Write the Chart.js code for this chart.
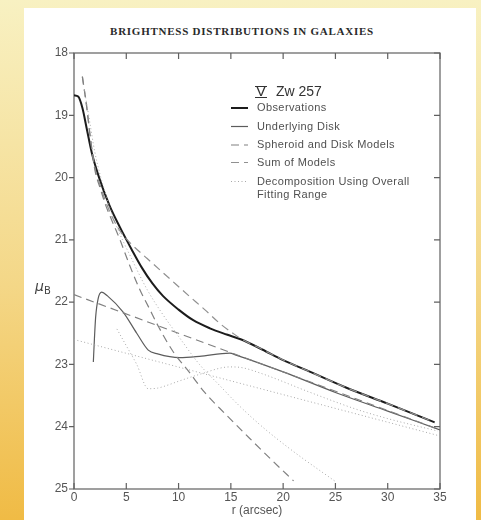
<!DOCTYPE html>
<html>
<head>
<meta charset="utf-8">
<script src="https://cdn.jsdelivr.net/npm/chart.js@4"></script>
<style>
  html, body { margin: 0; padding: 0; }
  body {
    width: 481px; height: 520px; overflow: hidden; position: relative;
    background: linear-gradient(to bottom, #f8f1c2 0%, #f4d787 55%, #f0bb45 100%);
  }
  #page { position: absolute; left: 24px; top: 8px; width: 452px; height: 512px; background: #fff; }
  #title {
    position: absolute; left: 0; top: 25px; width: 484px; text-align: center;
    font-family: "Liberation Serif", serif; font-weight: bold; font-size: 11px;
    letter-spacing: 0.75px; color: #2a2a2a;
  }
  canvas { position: absolute; left: 0; top: 0; }
</style>
</head>
<body>
<div id="page"></div>
<div id="title">BRIGHTNESS DISTRIBUTIONS IN GALAXIES</div>
<canvas id="chart" width="481" height="520"></canvas>
<script>
// ── axes ──────────────────────────────────────────────
const X_TICKS = [0, 5, 10, 15, 20, 25, 30, 35];
const Y_TICKS = [18, 19, 20, 21, 22, 23, 24, 25];

// ── curves (r in arcsec, mu_B in mag/arcsec²) ──
const obsR  = [0, 0.4, 0.8, 1.2, 1.7, 2.4, 3.4, 4.4, 5.5, 6.5, 7.5, 8.5, 10, 11.4, 13, 14.6, 16, 18, 20, 22.6, 26, 30, 34.5];
const obsMu = [18.68, 18.70, 18.88, 19.2, 19.6, 20.0, 20.45, 20.8, 21.15, 21.45, 21.7, 21.9, 22.12, 22.29, 22.42, 22.52, 22.6, 22.76, 22.93, 23.12, 23.37, 23.63, 23.93];

const diskR  = [1.85, 1.95, 2.07, 2.3, 2.65, 3.2, 4.7, 6.0, 7.1, 8.0, 10.1, 12.0, 14.9, 15.5, 20, 25, 30, 35];
const diskMu = [22.96, 22.6, 22.24, 21.95, 21.84, 21.9, 22.16, 22.5, 22.77, 22.83, 22.89, 22.87, 22.82, 22.85, 23.12, 23.45, 23.75, 24.05];

const sphR  = [0.8, 1.2, 1.6, 2.0, 2.5, 3.0, 3.7, 4.4, 5.3, 6.3, 7.2, 8.1, 9.5, 11, 12.5, 14.5, 17, 19, 21];
const sphMu = [18.38, 18.85, 19.42, 19.88, 20.17, 20.43, 20.72, 21.0, 21.4, 21.8, 22.1, 22.4, 22.8, 23.12, 23.45, 23.8, 24.22, 24.55, 24.87];

const diskModelR  = [0, 35];
const diskModelMu = [21.88, 24.05];

const sumR  = [0.8, 1.2, 1.6, 2.0, 2.5, 3.0, 3.7, 4.5, 5.5, 7, 9, 11, 12.5, 14, 15.2, 16, 18, 20, 22.6, 26, 30, 34.5];
const sumMu = [18.38, 18.84, 19.4, 19.84, 20.12, 20.37, 20.65, 20.88, 21.07, 21.3, 21.6, 21.9, 22.12, 22.35, 22.5, 22.59, 22.76, 22.93, 23.12, 23.37, 23.63, 23.93];

// decomposition using overall fitting range (dotted)
const dDiskR  = [0, 34.8];
const dDiskMu = [22.6, 24.14];

const dUndR  = [4.1, 5.0, 6.0, 7.1, 8.0, 9.0, 10.0, 12.0, 14.9, 16, 18, 22.6, 27, 30, 34.8];
const dUndMu = [22.43, 22.7, 23.0, 23.39, 23.38, 23.33, 23.27, 23.16, 23.04, 23.05, 23.15, 23.45, 23.72, 23.87, 24.07];

const dSphR  = [1.0, 1.5, 2.0, 3.0, 4.0, 5.5, 7.0, 8.5, 10, 12, 14, 15.6, 18, 21, 25];
const dSphMu = [18.6, 19.1, 19.6, 20.25, 20.75, 21.3, 21.8, 22.2, 22.55, 23.0, 23.35, 23.63, 24.0, 24.4, 24.88];

const LEGEND = [
  { label: 'Observations',             color: '#1c1c1c', width: 2,   dash: [] },
  { label: 'Underlying Disk',          color: '#5c5c5c', width: 1.2, dash: [] },
  { label: 'Spheroid and Disk Models', color: '#808080', width: 1.2, dash: [8, 5] },
  { label: 'Sum of Models',            color: '#909090', width: 1.2, dash: [8, 5] },
  { label: 'Decomposition Using Overall', label2: 'Fitting Range', color: '#a8a8a8', width: 1, dash: [1, 2.5] },
];

const pts = (xs, ys) => xs.map((x, i) => ({ x, y: ys[i] }));

function line(xs, ys, st) {
  return {
    data: pts(xs, ys),
    showLine: true,
    pointRadius: 0,
    borderColor: st.color,
    borderWidth: st.width,
    borderDash: st.dash,
    cubicInterpolationMode: 'monotone',
    fill: false,
  };
}

// ── frame with ticks: left outward, other sides inward ──
const framePlugin = {
  id: 'frame',
  beforeDatasetsDraw(chart) {
    const { ctx, chartArea: a, scales: { x, y } } = chart;
    ctx.save();
    ctx.strokeStyle = '#606060';
    ctx.lineWidth = 1.2;
    ctx.strokeRect(a.left, a.top, a.right - a.left, a.bottom - a.top);
    ctx.beginPath();
    X_TICKS.forEach(v => {
      const px = x.getPixelForValue(v);
      ctx.moveTo(px, a.bottom); ctx.lineTo(px, a.bottom - 6);
      ctx.moveTo(px, a.top);    ctx.lineTo(px, a.top + 6);
    });
    Y_TICKS.forEach(v => {
      const py = y.getPixelForValue(v);
      ctx.moveTo(a.left, py);  ctx.lineTo(a.left - 5, py);
      ctx.moveTo(a.right, py); ctx.lineTo(a.right - 6, py);
    });
    ctx.stroke();

    // mu_B axis label
    ctx.fillStyle = '#444';
    ctx.font = 'italic 14px "DejaVu Sans"';
    ctx.textBaseline = 'middle';
    ctx.fillText('μ', 35, 287);
    ctx.font = '10px "DejaVu Sans"';
    ctx.fillText('B', 44, 291);
    ctx.restore();
  },
  afterDraw(chart) {
    const { ctx } = chart;
    ctx.save();
    ctx.fillStyle = '#333';
    ctx.strokeStyle = '#333';
    ctx.textBaseline = 'middle';
    ctx.font = '15px "Liberation Sans"';
    ctx.fillText('V', 256, 92);
    const vw = ctx.measureText('V').width;
    ctx.lineWidth = 1;
    ctx.beginPath();
    ctx.moveTo(255, 86.5); ctx.lineTo(257 + vw, 86.5);
    ctx.moveTo(255, 97.5); ctx.lineTo(257 + vw, 97.5);
    ctx.stroke();
    ctx.font = '14px "Liberation Sans"';
    ctx.fillText('Zw 257', 276, 92);

    ctx.font = '11px "Liberation Sans"';
    ctx.letterSpacing = '0.4px';
    ctx.fillStyle = '#505050';
    const rows = [108, 126.5, 145, 162.5, 181.5];
    LEGEND.forEach((it, i) => {
      ctx.strokeStyle = it.color;
      ctx.lineWidth = it.width;
      ctx.setLineDash(it.dash);
      ctx.beginPath();
      ctx.moveTo(231, rows[i]); ctx.lineTo(248, rows[i]);
      ctx.stroke();
      ctx.setLineDash([]);
      ctx.fillText(it.label, 257, rows[i]);
      if (it.label2) ctx.fillText(it.label2, 257, rows[i] + 13.5);
    });
    ctx.restore();
  },
};

new Chart(document.getElementById('chart'), {
  type: 'scatter',
  data: {
    datasets: [
      line(dDiskR, dDiskMu, LEGEND[4]),
      line(dUndR, dUndMu, LEGEND[4]),
      line(dSphR, dSphMu, LEGEND[4]),
      line(diskModelR, diskModelMu, LEGEND[2]),
      line(sphR, sphMu, LEGEND[2]),
      line(sumR, sumMu, LEGEND[3]),
      line(diskR, diskMu, LEGEND[1]),
      line(obsR, obsMu, LEGEND[0]),
    ],
  },
  options: {
    responsive: false,
    animation: false,
    devicePixelRatio: 1,
    layout: { padding: { top: 53, right: 41, left: 0, bottom: 0 } },
    plugins: { legend: { display: false }, tooltip: { enabled: false } },
    scales: {
      x: {
        type: 'linear', min: 0, max: 35,
        afterBuildTicks: s => { s.ticks = X_TICKS.map(v => ({ value: v })); },
        afterFit: s => { s.height = 31; },
        grid: { display: false, drawTicks: false },
        border: { display: false },
        ticks: { padding: 1, color: '#555', font: { family: 'Liberation Sans', size: 12 } },
        title: { display: true, text: 'r (arcsec)', color: '#555', padding: { top: 0, bottom: 2 },
                 font: { family: 'Liberation Sans', size: 12 } },
      },
      y: {
        type: 'linear', min: 18, max: 25, reverse: true,
        afterBuildTicks: s => { s.ticks = Y_TICKS.map(v => ({ value: v })); },
        afterFit: s => { s.width = 74; },
        grid: { display: false, drawTicks: false },
        border: { display: false },
        ticks: { padding: 6, color: '#555', font: { family: 'Liberation Sans', size: 12 } },
      },
    },
  },
  plugins: [framePlugin],
});
</script>
</body>
</html>
